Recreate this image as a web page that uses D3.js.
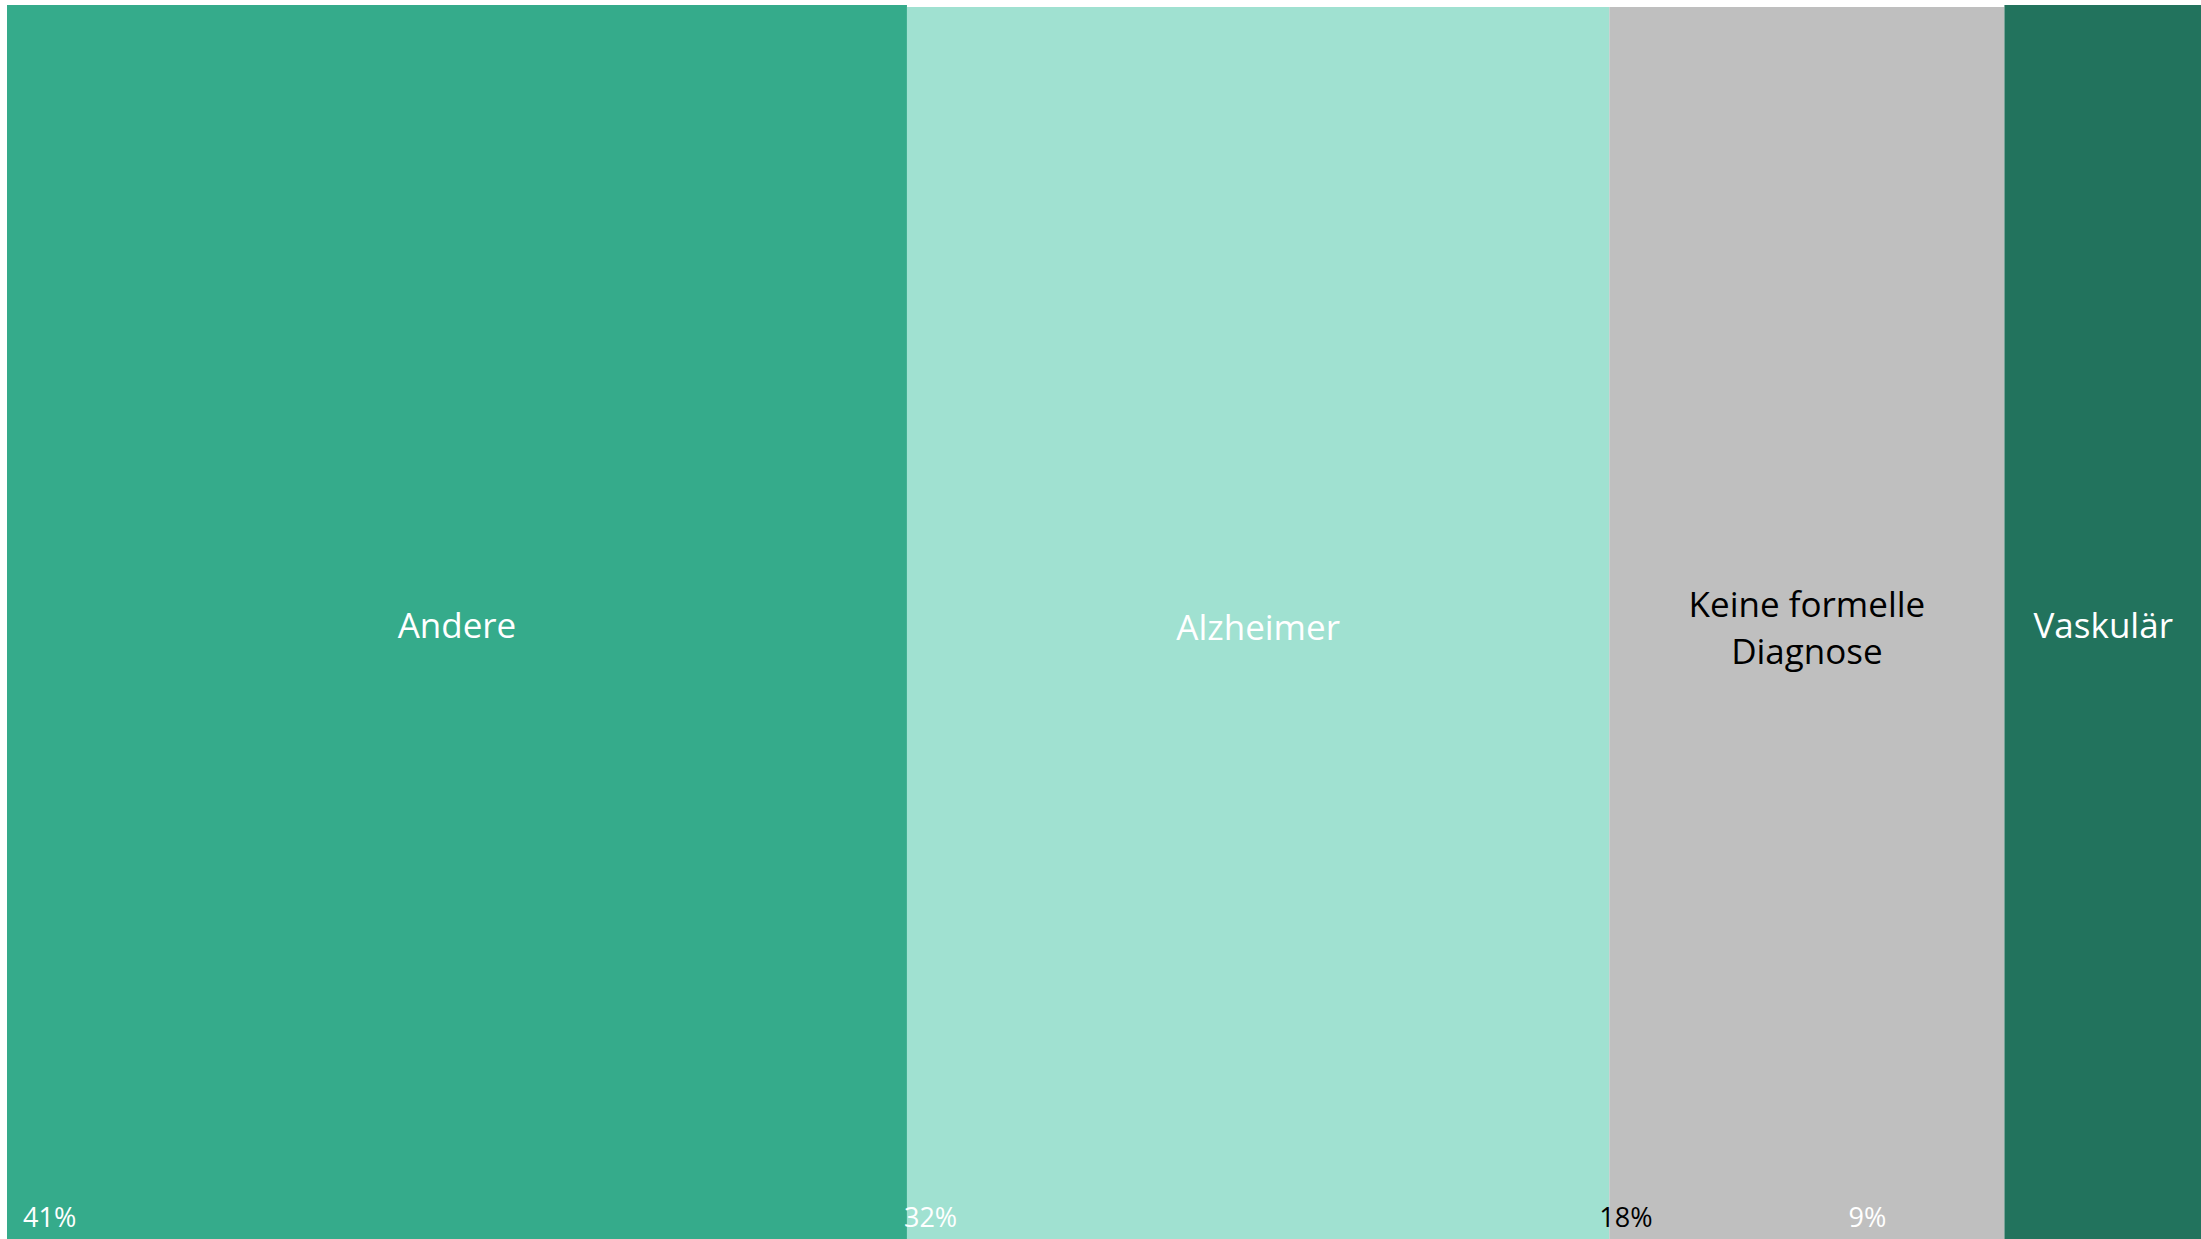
<!DOCTYPE html>
<html>
<head>
<meta charset="utf-8">
<script src="https://cdn.jsdelivr.net/npm/d3@7"></script>
<style>
  html, body { margin: 0; padding: 0; background: #ffffff; overflow: hidden; }
  svg text { font-family: "Open Sans", sans-serif; }
</style>
</head>
<body>
<div id="chart"></div>
<script>
// Daten
const categories = ['Andere', 'Alzheimer', 'Keine formelle Diagnose', 'Vaskulär'];
const shares = [41, 32, 18, 9];
const shareLabels = ['41%', '32%', '18%', '9%'];

// Darstellung
const colors = ['#35ab8b', '#a0e1d1', '#bfbfbf', '#22735d'];
const nameColors = ['#ffffff', '#ffffff', '#000000', '#ffffff'];
const pctColors = ['#ffffff', '#ffffff', '#000000', '#ffffff'];
const nameLines = [['Andere'], ['Alzheimer'], ['Keine formelle', 'Diagnose'], ['Vaskulär']];
const topInset = [0, 2, 2, 0];
const pctOffset = [16, -3, -10, -156];

const width = 2201, height = 1239;
const svg = d3.select('#chart')
    .append('svg')
    .attr('width', width)
    .attr('height', height)
    .attr('viewBox', [0, 0, width, height]);

const x = d3.scaleLinear().domain([0, 100]).range([7, 2202]);
const yTop = 5, yBottom = height;

// kumulierte Anteile
let acc = 0;
const boxes = categories.map((c, i) => {
    const b = { name: c, i, x0: acc, x1: acc + shares[i] };
    acc += shares[i];
    return b;
});

svg.selectAll('rect.box')
    .data(boxes)
    .join('rect')
    .attr('class', 'box')
    .attr('x', d => x(d.x0))
    .attr('y', d => yTop + topInset[d.i])
    .attr('width', d => x(d.x1) - x(d.x0))
    .attr('height', d => yBottom - yTop - topInset[d.i])
    .attr('fill', d => colors[d.i]);

// Kategorienamen
const names = svg.selectAll('text.name')
    .data(boxes)
    .join('text')
    .attr('class', 'name')
    .attr('text-anchor', 'middle')
    .attr('font-size', 35)
    .attr('fill', d => nameColors[d.i]);

names.each(function(d) {
    const lines = nameLines[d.i];
    const cx = (x(d.x0) + x(d.x1)) / 2;
    const lh = 47;
    const base = 638 + topInset[d.i] - (lines.length - 1) * lh / 2;
    d3.select(this).selectAll('tspan')
        .data(lines)
        .join('tspan')
        .attr('x', cx)
        .attr('y', (l, k) => base + k * lh)
        .text(l => l);
});

// Prozentwerte
svg.selectAll('text.pct')
    .data(boxes)
    .join('text')
    .attr('class', 'pct')
    .attr('x', d => x(d.x0) + pctOffset[d.i])
    .attr('y', 1227)
    .attr('font-size', 27)
    .attr('fill', d => pctColors[d.i])
    .text(d => shareLabels[d.i]);
</script>
</body>
</html>
